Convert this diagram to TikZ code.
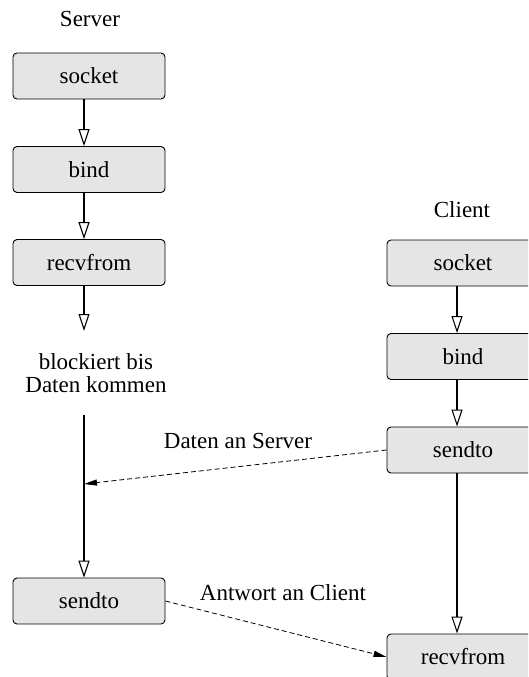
\documentclass[tikz,border=0pt]{standalone}
\usepackage{fontspec}
\setmainfont{Liberation Serif}
\usetikzlibrary{arrows.meta}
\begin{document}
\begin{tikzpicture}[x=1pt,y=-1pt,
  every node/.style={font=\fontsize{23}{23}\selectfont},
  box/.style={draw=black, line width=0.9pt, fill=black!10, rounded corners=4pt,
    minimum width=152pt, minimum height=46pt, inner sep=0pt},
  openarr/.style={line width=1.2pt, -{Triangle[open, length=17pt, width=11pt, line width=1.1pt]}},
  plain/.style={line width=1.2pt},
  msg/.style={line width=0.8pt, dash pattern=on 5pt off 3pt, -{Triangle[length=13pt, width=6pt]}}
]
\useasboundingbox (0,0) rectangle (528,677);
\clip (0,0) rectangle (528,677);
% server
\node (slab) at (90,19) {Server};
\node[box] (ssock) at (89,76) {socket};
\node[box] (sbind) at (89,169.5) {bind};
\node[box] (srecv) at (89,262.5) {recvfrom};
\node[align=center] (sblock) at (96,373) {blockiert bis\\Daten kommen};
\node[box] (ssend) at (89,601) {sendto};
\coordinate (sx) at (84,0);
\coordinate (btop) at (84,331);
\coordinate (bbot) at (84,415);
\coordinate (hit) at (84,484);
\draw[openarr] (ssock.south -| sx) -- (sbind.north -| sx);
\draw[openarr] (sbind.south -| sx) -- (srecv.north -| sx);
\draw[openarr] (srecv.south -| sx) -- (btop);
\draw[openarr] (bbot) -- (ssend.north -| sx);
% client
\node (clab) at (462,210) {Client};
\node[box] (csock) at (463,263) {socket};
\node[box] (cbind) at (463,356.5) {bind};
\node[box] (csend) at (463,450) {sendto};
\node[box] (crecv) at (463,657) {recvfrom};
\coordinate (cx) at (457,0);
\draw[openarr] (csock.south -| cx) -- (cbind.north -| cx);
\draw[openarr] (cbind.south -| cx) -- (csend.north -| cx);
\draw[openarr] (csend.south -| cx) -- (crecv.north -| cx);
% messages
\draw[msg] (csend.west) -- (hit);
\node (l1) at (238,441) {Daten an Server};
\draw[msg] (ssend.east) -- (crecv.west);
\node (l2) at (283,593) {Antwort an Client};
\end{tikzpicture}
\end{document}
